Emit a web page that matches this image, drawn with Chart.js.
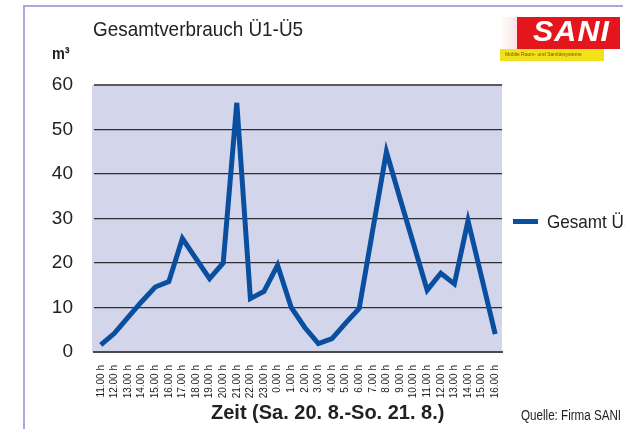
<!DOCTYPE html>
<html>
<head>
<meta charset="utf-8">
<script src="https://cdn.jsdelivr.net/npm/chart.js@4.4.1/dist/chart.umd.min.js"></script>
<style>
  html, body { margin: 0; padding: 0; background: #fff; overflow: hidden; }
  #wrap { position: relative; width: 625px; height: 429px; overflow: hidden; }
  canvas { position: absolute; left: 0; top: 0; }
  .t { position: absolute; white-space: nowrap; color: #222; font-family: "Liberation Sans", Arial, sans-serif; line-height: 1; transform-origin: 0 0; }
  #frameTop { position: absolute; left: 23px; top: 5px; width: 600px; height: 2px; background: #a6abdc; }
  #frameLeft { position: absolute; left: 23px; top: 5px; width: 2px; height: 424px; background: #a6abdc; }
  #logoWhite { position: absolute; left: 500px; top: 17px; width: 17px; height: 32px; background: linear-gradient(90deg, #fff 0%, #fbe3e4 100%); }
  #logoRed { position: absolute; left: 517px; top: 17px; width: 103px; height: 32px; background: #e4161d; }
  #logoYellow { position: absolute; left: 500px; top: 49px; width: 104px; height: 12px; background: #f3e11a; }
  #logoText { position: absolute; left: 533px; top: 17px; font: italic bold 29px "Liberation Sans", Arial, sans-serif; color: #fff; letter-spacing: 1px; line-height: 1; transform: scaleX(1.05); transform-origin: 0 0; }
  #logoSub { position: absolute; left: 505px; top: 52px; font: 5px "Liberation Sans", Arial, sans-serif; color: #6b5a00; line-height: 1; }
  #legLine { position: absolute; left: 513px; top: 219px; width: 25px; height: 5px; background: #0a4f9f; }
</style>
</head>
<body>
<div id="wrap">
  <canvas id="c" width="625" height="429"></canvas>
  <div id="frameTop"></div>
  <div id="frameLeft"></div>
  <div class="t" id="title" style="left:93px; top:18px; font-size:21px; transform:scaleX(0.9);">Gesamtverbrauch Ü1-Ü5</div>
  <div class="t" id="unit" style="left:52px; top:45px; font-size:17px; font-weight:bold; transform:scaleX(0.85);">m³</div>
  <div id="logoWhite"></div>
  <div id="logoRed"></div>
  <div id="logoYellow"></div>
  <div id="logoText">SANI</div>
  <div id="logoSub">Mobile Raum- und Sanitärsysteme</div>
  <div id="legLine"></div>
  <div class="t" id="legText" style="left:547px; top:212px; font-size:19px; transform:scaleX(0.9);"></div>
  <div class="t" id="xTitle" style="left:211px; top:402px; font-size:20px; font-weight:bold;"></div>
  <div class="t" id="source" style="left:521px; top:408px; font-size:14px; transform:scaleX(0.83);">Quelle: Firma SANI</div>
</div>
<script>
// ---- data ----
const categories = [
  "11.00 h","12.00 h","13.00 h","14.00 h","15.00 h","16.00 h","17.00 h","18.00 h","19.00 h","20.00 h",
  "21.00 h","22.00 h","23.00 h","0.00 h","1.00 h","2.00 h","3.00 h","4.00 h","5.00 h","6.00 h",
  "7.00 h","8.00 h","9.00 h","10.00 h","11.00 h","12.00 h","13.00 h","14.00 h","15.00 h","16.00 h"
];
const seriesName = "Gesamt Ü5";
const gesamtValues = [
  1.6, 4.2, 7.8, 11.3, 14.6, 15.8, 25.5, 21.0, 16.5, 20.0,
  56.0, 12.0, 13.6, 19.5, 10.0, 5.5, 1.9, 3.0, 6.5, 9.8,
  27.5, 45.0, 34.5, 24.2, 13.9, 17.7, 15.3, 29.5, 16.8, 4.0
];
const yTicks = [0, 10, 20, 30, 40, 50, 60];
const xAxisTitle = "Zeit (Sa. 20. 8.-So. 21. 8.)";

document.getElementById("legText").textContent = seriesName;
document.getElementById("xTitle").textContent = xAxisTitle;

const plotBg = {
  id: "plotBg",
  beforeDraw(chart) {
    const a = chart.chartArea, ctx = chart.ctx;
    ctx.save();
    ctx.fillStyle = "#d3d6ea";
    ctx.fillRect(a.left - 2, a.top, a.right - a.left + 2, a.bottom - a.top);
    ctx.restore();
  }
};

new Chart(document.getElementById("c"), {
  type: "line",
  data: {
    labels: categories,
    datasets: [{
      label: seriesName,
      data: gesamtValues,
      borderColor: "#0a4f9f",
      backgroundColor: "#0a4f9f",
      borderWidth: 5,
      pointRadius: 0,
      tension: 0,
      fill: false
    }]
  },
  options: {
    responsive: false,
    animation: false,
    devicePixelRatio: 1,
    layout: { padding: { top: 85, right: 123, left: 0, bottom: 0 } },
    plugins: { legend: { display: false }, tooltip: { enabled: false } },
    scales: {
      x: {
        offset: true,
        grid: { display: false },
        border: { display: true, color: "#4a4a4a", width: 2 },
        ticks: {
          autoSkip: false,
          minRotation: 90,
          maxRotation: 90,
          padding: 5,
          color: "#222",
          font: { family: "'Liberation Sans', Arial", size: 10 }
        },
        afterFit(s) { s.height = 77; }
      },
      y: {
        min: 0,
        max: 60,
        afterBuildTicks(s) { s.ticks = yTicks.map(v => ({ value: v })); },
        grid: {
          color: (c) => c.tick && c.tick.value === 60 ? "#5a5a5e" : "#2e2e32",
          lineWidth: (c) => c.tick && c.tick.value === 60 ? 2 : 1.3,
          drawTicks: false
        },
        border: { display: false },
        ticks: {
          padding: 21,
          color: "#222",
          font: { family: "'Liberation Sans', Arial", size: 19 }
        },
        afterFit(s) { s.width = 94; }
      }
    }
  },
  plugins: [plotBg]
});
</script>
</body>
</html>
